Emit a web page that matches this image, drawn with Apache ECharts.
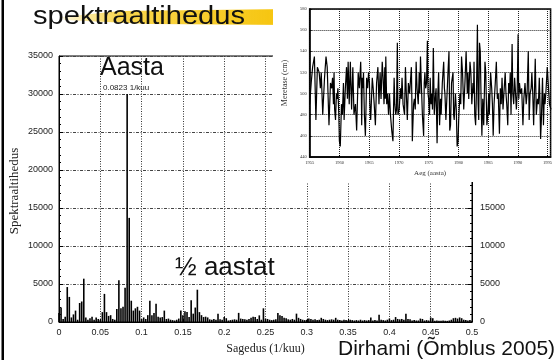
<!DOCTYPE html>
<html>
<head>
<meta charset="utf-8">
<script src="https://cdn.jsdelivr.net/npm/echarts@6/dist/echarts.min.js"></script>
<style>
  html, body { margin: 0; padding: 0; background: #fff; }
  #main { position: absolute; left: 0; top: 0; width: 555px; height: 360px; }
  #inset { position: absolute; left: 273px; top: 0; width: 282px; height: 182px; background: #fff; }
</style>
</head>
<body>
<div id="main"></div>
<div id="inset"></div>
<script>
// spectral density, one value per 0.0025 1/kuu (0 .. 0.5)
var freqStep = 0.0025;
var spectrum = [
  1200, 1900, 400, 700, 4600, 3300, 600, 1000, 1500, 300,
  2500, 2700, 5700, 600, 300, 500, 700, 300, 600, 400,
  300, 1300, 3700, 1300, 800, 900, 400, 300, 1700, 5500,
  1800, 2000, 4500, 30000, 13700, 2800, 1500, 1800, 2000, 1500,
  400, 600, 400, 900, 2800, 900, 1200, 2400, 700, 600,
  650, 1500, 400, 450, 300, 250, 200, 300, 450, 1500,
  900, 1400, 1300, 650, 2850, 1100, 1900, 4250, 1300, 900,
  650, 700, 600, 350, 300, 400, 300, 1100, 350, 300,
  650, 500, 200, 250, 300, 350, 300, 1200, 450, 400,
  350, 300, 400, 550, 700, 650, 400, 870, 300, 1800,
  450, 400, 300, 250, 300, 350, 1200, 900, 800, 550,
  500, 350, 300, 400, 300, 1100, 550, 400, 300, 250,
  300, 450, 400, 300, 350, 250, 300, 550, 400, 300,
  250, 300, 350, 300, 550, 300, 250, 200, 300, 250,
  200, 300, 250, 200, 250, 200, 300, 200, 250, 200,
  250, 600, 200, 250, 200, 950, 300, 250, 200, 300,
  450, 250, 300, 650, 400, 350, 400, 300, 1100, 400,
  350, 200, 250, 200, 200, 450, 400, 200, 250, 200,
  600, 500, 150, 200, 150, 150, 200, 150, 150, 200,
  300, 500, 550, 450, 600, 500, 300, 250, 200, 250,
  150
];

// sea level (Dirhami), year and level in cm
var seaYears = [
  1955.0, 1955.26, 1955.5, 1955.8, 1956.05, 1956.3, 1956.6, 1956.8, 1956.95, 1957.2,
  1957.5, 1957.75, 1957.95, 1958.25, 1958.5, 1958.7, 1958.85, 1959.0, 1959.1, 1959.2,
  1959.35, 1959.5, 1959.6, 1959.75, 1959.9, 1960.0, 1960.15, 1960.35, 1960.5, 1960.68,
  1960.79, 1961.0, 1961.2, 1961.35, 1961.47, 1961.65, 1961.84, 1962.05, 1962.26, 1962.45,
  1962.7, 1962.9, 1963.16, 1963.35, 1963.58, 1963.68, 1963.75, 1963.84, 1963.95, 1964.05,
  1964.2, 1964.37, 1964.58, 1964.75, 1964.9, 1965.05, 1965.12, 1965.26, 1965.53, 1965.68,
  1965.85, 1966.05, 1966.25, 1966.47, 1966.65, 1966.84, 1967.0, 1967.2, 1967.35, 1967.5,
  1967.63, 1967.72, 1967.8, 1967.95, 1968.1, 1968.26, 1968.42, 1968.58, 1968.8, 1969.0,
  1969.2, 1969.32, 1969.47, 1969.6, 1969.74, 1969.84, 1970.05, 1970.26, 1970.4, 1970.53,
  1970.7, 1970.95, 1971.1, 1971.25, 1971.42, 1971.6, 1971.8, 1972.1, 1972.18, 1972.26,
  1972.47, 1972.6, 1972.75, 1972.9, 1973.05, 1973.25, 1973.42, 1973.52, 1973.63, 1973.8,
  1973.95, 1974.16, 1974.26, 1974.37, 1974.5, 1974.65, 1974.79, 1974.9, 1975.0, 1975.15,
  1975.26, 1975.4, 1975.53, 1975.65, 1975.79, 1975.95, 1976.1, 1976.25, 1976.42, 1976.55,
  1976.68, 1976.84, 1977.0, 1977.1, 1977.3, 1977.53, 1977.65, 1977.74, 1977.9, 1978.1,
  1978.25, 1978.42, 1978.55, 1978.68, 1978.85, 1979.1, 1979.2, 1979.3, 1979.5, 1979.65,
  1979.79, 1979.95, 1980.05, 1980.26, 1980.4, 1980.53, 1980.7, 1980.9, 1981.1, 1981.3,
  1981.5, 1981.6, 1981.74, 1981.95, 1982.1, 1982.26, 1982.45, 1982.55, 1982.63, 1982.75,
  1982.9, 1983.05, 1983.2, 1983.32, 1983.42, 1983.55, 1983.68, 1983.8, 1983.95, 1984.1,
  1984.26, 1984.47, 1984.6, 1984.79, 1984.95, 1985.1, 1985.2, 1985.42, 1985.6, 1985.72,
  1985.85, 1986.0, 1986.2, 1986.38, 1986.55, 1986.7, 1986.9, 1987.05, 1987.2, 1987.34,
  1987.5, 1987.65, 1987.87, 1988.0, 1988.13, 1988.3, 1988.45, 1988.6, 1988.72, 1988.85,
  1989.03, 1989.15, 1989.3, 1989.45, 1989.56, 1989.75, 1989.88, 1990.04, 1990.15, 1990.27,
  1990.45, 1990.64, 1990.85, 1991.0, 1991.2, 1991.4, 1991.55, 1991.75, 1991.9, 1992.05,
  1992.23, 1992.35, 1992.5, 1992.65, 1992.8, 1992.92, 1993.1, 1993.3, 1993.45, 1993.6,
  1993.7, 1993.82, 1993.95, 1994.14, 1994.3, 1994.45, 1994.56, 1994.7, 1994.94, 1995.1,
  1995.3, 1995.57
];
var seaLevel = [
  490, 510, 525, 535, 475, 525, 520, 505, 520, 480,
  515, 535, 525, 470, 510, 505, 515, 490, 520, 485,
  475, 500, 495, 505, 480, 455, 450, 490, 480, 510,
  475, 505, 525, 495, 530, 490, 530, 485, 525, 480,
  490, 465, 520, 505, 530, 505, 470, 515, 505, 520,
  480, 460, 515, 505, 520, 510, 490, 475, 515, 505,
  490, 470, 510, 525, 490, 520, 495, 530, 515, 490,
  525, 495, 535, 490, 500, 480, 500, 480, 465, 455,
  515, 490, 480, 485, 548, 480, 485, 505, 495, 515,
  490, 480, 525, 500, 475, 510, 500, 525, 495, 455,
  490, 495, 485, 530, 505, 490, 520, 500, 535, 505,
  480, 460, 510, 520, 505, 510, 550, 500, 495, 480,
  515, 490, 500, 485, 543, 480, 495, 505, 453, 500,
  520, 470, 495, 480, 510, 530, 505, 500, 475, 500,
  520, 540, 465, 470, 510, 520, 480, 475, 500, 485,
  450, 455, 475, 500, 490, 535, 520, 485, 510, 540,
  500, 520, 495, 530, 520, 490, 510, 500, 530, 480,
  470, 505, 565, 490, 475, 548, 540, 500, 460, 495,
  470, 530, 520, 470, 480, 500, 480, 520, 505, 490,
  460, 490, 510, 530, 495, 500, 462, 505, 490, 515,
  485, 500, 520, 500, 490, 470, 510, 500, 520, 480,
  547, 500, 490, 515, 505, 485, 500, 556, 495, 510,
  500, 505, 470, 495, 510, 490, 500, 540, 475, 500,
  505, 520, 500, 470, 505, 533, 480, 495, 490, 515,
  495, 457, 475, 515, 470, 500, 490, 500, 525, 510,
  490, 485
];

var sansFont = "'Liberation Sans', Arial, sans-serif";
var serifFont = "'Liberation Serif', 'Times New Roman', serif";

var spectrumData = spectrum.map(function (v, i) {
  return [+(i * freqStep).toFixed(4), v];
});
var seaData = seaYears.map(function (y, i) {
  return [y, seaLevel[i]];
});

function plain(v) {
  return String(v);
}

var mainChart = echarts.init(document.getElementById("main"));
mainChart.setOption({
  animation: false,
  grid: {
    left: 59,
    right: 83,
    top: 56,
    bottom: 37,
    show: true,
    borderColor: "#000",
    borderWidth: 1
  },
  xAxis: {
    type: "value",
    min: 0,
    max: 0.5,
    interval: 0.05,
    axisLine: { show: true, onZero: false, lineStyle: { color: "#000" } },
    axisTick: { show: true, inside: true, length: 3, lineStyle: { color: "#000" } },
    axisLabel: {
      color: "#222",
      fontSize: 9,
      fontFamily: sansFont,
      margin: 6,
      formatter: function (v) {
        return v === 0 ? "0" : String(+v.toFixed(2));
      }
    },
    splitLine: { show: true, lineStyle: { color: "#333", type: [1, 1.5], width: 1 } },
    name: "Sagedus (1/kuu)",
    nameLocation: "middle",
    nameGap: 21,
    nameTextStyle: { color: "#222", fontSize: 12, fontFamily: serifFont }
  },
  yAxis: [
    {
      type: "value",
      min: 0,
      max: 35000,
      interval: 5000,
      position: "left",
      axisLine: { show: true, lineStyle: { color: "#000" } },
      axisTick: { show: true, inside: true, length: 4, lineStyle: { color: "#000" } },
      minorTick: { show: true, splitNumber: 5, length: 2, lineStyle: { color: "#000" } },
      axisLabel: { color: "#222", fontSize: 9, fontFamily: sansFont, margin: 6, formatter: plain },
      splitLine: { show: true, lineStyle: { color: "#444", type: [3, 1.5, 1, 1.5], width: 1 } }
    },
    {
      type: "value",
      min: 0,
      max: 35000,
      interval: 5000,
      position: "right",
      axisLine: { show: true, lineStyle: { color: "#000" } },
      axisTick: { show: true, inside: true, length: 4, lineStyle: { color: "#000" } },
      minorTick: { show: true, splitNumber: 5, length: 2, lineStyle: { color: "#000" } },
      axisLabel: { color: "#222", fontSize: 9, fontFamily: sansFont, margin: 8, formatter: plain },
      splitLine: { show: false }
    }
  ],
  series: [
    {
      type: "bar",
      data: spectrumData,
      barWidth: 1.6,
      itemStyle: { color: "#000" }
    }
  ],
  graphic: [
    // slide edge
    { type: "rect", shape: { x: 1.5, y: 0, width: 2.5, height: 360 }, style: { fill: "#000" } },
    // yellow brush stroke under the title
    {
      type: "polygon",
      z: 1,
      shape: { points: [[62, 17], [120, 11], [290, 9], [290, 25], [150, 24], [64, 20]] },
      style: {
        fill: new echarts.graphic.LinearGradient(0, 0, 1, 0, [
          { offset: 0, color: "rgba(247,200,20,0.15)" },
          { offset: 0.25, color: "rgba(247,200,20,0.75)" },
          { offset: 1, color: "rgba(246,196,10,1)" }
        ])
      }
    },
    {
      type: "text", z: 5, x: 33, y: 17, scaleX: 1.12,
      style: { text: "spektraaltihedus", font: "26px " + sansFont, fill: "#111", verticalAlign: "middle" }
    },
    {
      type: "text", z: 5, x: 100, y: 68,
      style: { text: "Aasta", font: "25px " + sansFont, fill: "#111", verticalAlign: "middle" }
    },
    {
      type: "text", z: 5, x: 103, y: 88,
      style: { text: "0.0823 1/kuu", font: "8px " + sansFont, fill: "#222", verticalAlign: "middle" }
    },
    {
      type: "text", z: 5, x: 175, y: 268,
      style: { text: "½ aastat", font: "26px " + sansFont, fill: "#111", verticalAlign: "middle" }
    },
    {
      type: "text", z: 5, x: 338, y: 349,
      style: { text: "Dirhami (Õmblus 2005)", font: "21px " + sansFont, fill: "#111", verticalAlign: "middle" }
    },
    {
      type: "text", z: 5, x: 15, y: 191, rotation: Math.PI / 2,
      style: {
        text: "Spektraaltihedus", font: "13px " + serifFont, fill: "#222",
        align: "center", verticalAlign: "middle"
      }
    }
  ]
});

var insetChart = echarts.init(document.getElementById("inset"));
insetChart.setOption({
  animation: false,
  backgroundColor: "#fff",
  grid: {
    left: 27,
    top: 9,
    width: 255,
    height: 151,
    show: true,
    borderColor: "#000",
    borderWidth: 1.5
  },
  xAxis: {
    type: "value",
    min: 1955,
    max: 1995.5,
    interval: 5,
    axisLine: { show: true, lineStyle: { color: "#000", width: 1.5 } },
    axisTick: { show: true, inside: true, length: 2, lineStyle: { color: "#000" } },
    axisLabel: {
      color: "#333", fontSize: 4.5, fontFamily: serifFont, margin: 3,
      showMaxLabel: false, formatter: plain
    },
    splitLine: { show: true, lineStyle: { color: "#222", type: [1, 1], width: 1 } },
    name: "Aeg (aasta)",
    nameLocation: "middle",
    nameGap: 13,
    nameTextStyle: { color: "#333", fontSize: 7, fontFamily: serifFont }
  },
  yAxis: {
    type: "value",
    min: 440,
    max: 580,
    interval: 20,
    axisLine: { show: true, lineStyle: { color: "#000", width: 1.5 } },
    axisTick: { show: true, inside: true, length: 2, lineStyle: { color: "#000" } },
    axisLabel: { color: "#333", fontSize: 4.5, fontFamily: serifFont, margin: 3, formatter: plain },
    splitLine: { show: true, lineStyle: { color: "#222", type: [1, 1], width: 1 } },
    name: "Meretase (cm)",
    nameLocation: "middle",
    nameGap: 14,
    nameTextStyle: { color: "#333", fontSize: 8, fontFamily: serifFont }
  },
  series: [
    {
      type: "line",
      data: seaData,
      showSymbol: false,
      clip: true,
      lineStyle: { color: "#000", width: 1.2 }
    }
  ]
});
</script>
</body>
</html>
